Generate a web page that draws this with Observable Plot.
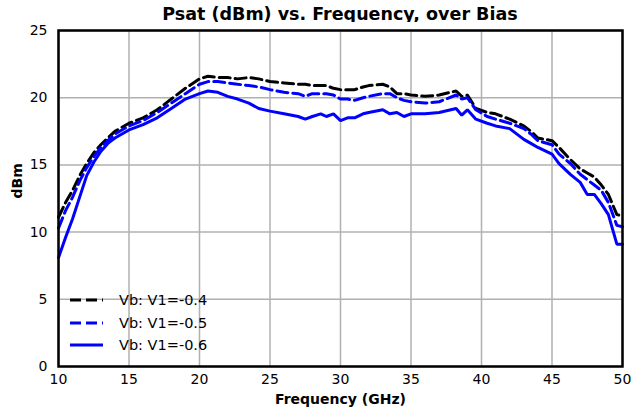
<!DOCTYPE html>
<html>
<head>
<meta charset="utf-8">
<script src="https://cdn.jsdelivr.net/npm/d3@7"></script>
<script src="https://cdn.jsdelivr.net/npm/@observablehq/plot@0.6"></script>
<style>
  body { margin: 0; background: #fff; }
  #wrap { position: relative; width: 633px; height: 416px; font-family: "DejaVu Sans", sans-serif; }
  #title { position: absolute; left: 58px; width: 564px; top: 3px; text-align: center; font-weight: bold; font-size: 17.5px; line-height: 22px; }
  #chart { position: absolute; left: 0; top: 22px; }
  #legend { position: absolute; left: 70px; top: 289px; font-size: 14.5px; }
  .row { display: flex; align-items: center; height: 22.5px; }
  .row svg { margin-right: 16px; }
</style>
</head>
<body>
<div id="wrap">
  <div id="title">Psat (dBm) vs. Frequency, over Bias</div>
  <div id="chart"></div>
  <div id="legend"></div>
</div>
<script>
const titleText = "Psat (dBm) vs. Frequency, over Bias";
const xLabel = "Frequency (GHz)";
const yLabel = "dBm";
const xTicks = [10, 15, 20, 25, 30, 35, 40, 45, 50];
const yTicks = [0, 5, 10, 15, 20, 25];
const seriesNames = ["Vb: V1=-0.4", "Vb: V1=-0.5", "Vb: V1=-0.6"];

const freq = [10, 10.5, 11, 11.5, 12, 12.5, 13, 13.5, 14, 15, 16, 17, 18, 19, 20, 20.6, 21.3, 22, 22.7, 23.5, 24.2, 25, 26, 27, 27.5, 28, 28.6, 29, 29.5, 30, 30.5, 31, 31.6, 32, 33, 33.5, 34, 34.5, 35, 36, 37, 38.2, 38.6, 39, 39.6, 40.4, 41, 42, 43, 43.5, 44, 45, 45.5, 46.3, 47, 47.5, 48, 48.5, 49, 49.6, 50];

const psatV04 = [11.1, 12.2, 13.1, 14.2, 15.1, 15.9, 16.5, 17.0, 17.5, 18.1, 18.5, 19.1, 19.9, 20.7, 21.4, 21.6, 21.5, 21.5, 21.4, 21.5, 21.4, 21.2, 21.1, 21.0, 21.0, 20.9, 20.9, 20.9, 20.7, 20.6, 20.6, 20.6, 20.8, 20.9, 21.0, 20.8, 20.3, 20.3, 20.2, 20.1, 20.2, 20.5, 20.1, 20.2, 19.2, 18.9, 18.8, 18.4, 17.9, 17.5, 17.0, 16.8, 16.3, 15.4, 14.7, 14.4, 14.1, 13.5, 12.8, 11.3, 11.2];

const psatV05 = [10.3, 11.6, 12.6, 13.8, 14.8, 15.6, 16.3, 16.8, 17.3, 17.9, 18.3, 18.9, 19.6, 20.3, 21.0, 21.2, 21.2, 21.1, 21.0, 20.9, 20.8, 20.6, 20.4, 20.3, 20.1, 20.3, 20.3, 20.3, 20.2, 19.9, 19.9, 19.8, 20.0, 20.1, 20.3, 20.3, 20.0, 19.8, 19.7, 19.6, 19.7, 20.2, 19.9, 20.0, 19.1, 18.6, 18.4, 18.1, 17.7, 17.3, 16.8, 16.5, 15.8, 15.1, 14.3, 13.9, 13.5, 13.1, 12.2, 10.5, 10.4];

const psatV06 = [8.1, 9.6, 11.0, 12.6, 14.2, 15.2, 16.0, 16.6, 17.0, 17.6, 18.0, 18.5, 19.2, 19.9, 20.3, 20.5, 20.4, 20.1, 19.9, 19.6, 19.2, 19.0, 18.8, 18.6, 18.4, 18.6, 18.8, 18.6, 18.8, 18.3, 18.5, 18.5, 18.8, 18.9, 19.1, 18.8, 18.9, 18.6, 18.8, 18.8, 18.9, 19.2, 18.7, 19.1, 18.4, 18.1, 17.9, 17.7, 16.9, 16.6, 16.3, 15.8, 15.1, 14.3, 13.7, 12.8, 12.8, 12.1, 11.3, 9.1, 9.1];

const styles = [
  {stroke: "#000000", dash: "11,5"},
  {stroke: "#0000ff", dash: "11,5"},
  {stroke: "#0000ff", dash: null}
];
const allSeries = [psatV04, psatV05, psatV06];
const data = allSeries.map(vals => freq.map((f, i) => ({f, v: vals[i]})));

document.getElementById("title").textContent = titleText;

const chart = Plot.plot({
  width: 633,
  height: 394,
  marginLeft: 58,
  marginRight: 11,
  marginTop: 8,
  marginBottom: 50,
  style: {fontFamily: "DejaVu Sans, sans-serif", fontSize: "14px", color: "#000", background: "#fff"},
  x: {domain: [10, 50]},
  y: {domain: [0, 25]},
  marks: [
    Plot.ruleX(xTicks, {x: d => d, stroke: "#b0b0b0", strokeWidth: 1.5}),
    Plot.ruleY(yTicks, {y: d => d, stroke: "#b0b0b0", strokeWidth: 1.5}),
    ...data.map((d, i) => Plot.line(d, {
      x: "f", y: "v", stroke: styles[i].stroke, strokeWidth: 3,
      strokeDasharray: styles[i].dash, strokeLinejoin: "miter", curve: "linear"
    })),
    Plot.frame({stroke: "#000", strokeWidth: 2.5}),
    Plot.axisX(xTicks, {tickSize: 0, tickPadding: 8, fontSize: 14, label: null}),
    Plot.axisY(yTicks, {tickSize: 0, tickPadding: 11, fontSize: 14, label: null}),
    Plot.text([xLabel], {frameAnchor: "bottom", dy: 37, text: d => d, fontWeight: "bold", fontSize: 14}),
    Plot.text([yLabel], {frameAnchor: "left", dx: -41, rotate: -90, text: d => d, fontWeight: "bold", fontSize: 14})
  ]
});
document.getElementById("chart").appendChild(chart);

const legend = document.getElementById("legend");
seriesNames.forEach((name, i) => {
  const row = document.createElement("div");
  row.className = "row";
  const s = styles[i];
  row.innerHTML = `<svg width="33" height="6"><line x1="0" y1="3" x2="33" y2="3" stroke="${s.stroke}" stroke-width="3" ${s.dash ? `stroke-dasharray="${s.dash}"` : ""}/></svg><span>${name}</span>`;
  legend.appendChild(row);
});
</script>
</body>
</html>
